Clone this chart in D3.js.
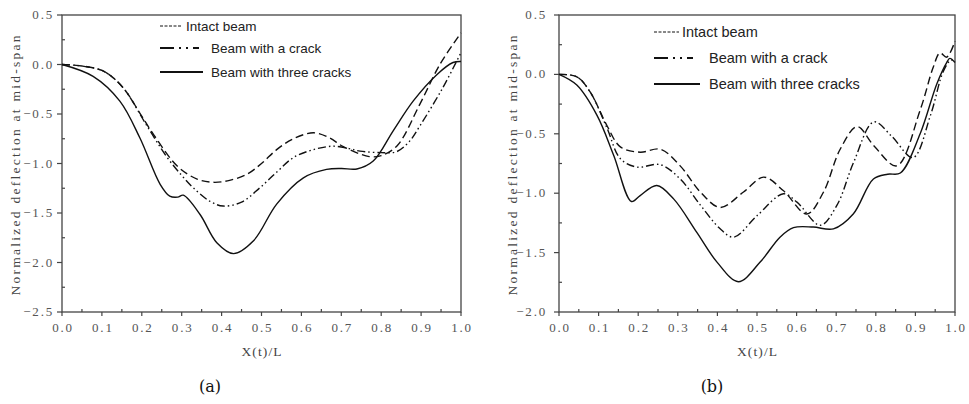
<!DOCTYPE html>
<html>
<head>
<meta charset="utf-8">
<script src="https://cdn.jsdelivr.net/npm/d3@7"></script>
<style>
  body { margin: 0; background: #fff; }
  svg { display: block; }
  .tick-label { font-family: "Liberation Serif", serif; font-size: 13px; letter-spacing: 1.8px; fill: #555; }
  .axis-title { font-family: "Liberation Serif", serif; font-size: 13.5px; fill: #444; }
  .legend-text { font-family: "Liberation Sans", Arial, sans-serif; fill: #222; }
  .caption { font-family: "DejaVu Serif", serif; font-size: 16px; fill: #111; }
</style>
</head>
<body>
<div id="chart"></div>
<script>
// series names
const seriesNames = ["Intact beam", "Beam with a crack", "Beam with three cracks"];

// panel (a)
const aIntactX = [0, 0.05, 0.10, 0.13, 0.16, 0.195, 0.23, 0.29, 0.34, 0.38, 0.42, 0.463, 0.50, 0.538, 0.58, 0.63, 0.67, 0.705, 0.77, 0.80, 0.84, 0.897, 0.947, 1.0];
const aIntactY = [0, -0.015, -0.06, -0.14, -0.27, -0.49, -0.71, -1.03, -1.16, -1.19, -1.17, -1.11, -1.0, -0.86, -0.75, -0.69, -0.74, -0.83, -0.93, -0.92, -0.82, -0.40, 0.0, 0.32];
const aCrackX = [0, 0.05, 0.10, 0.13, 0.16, 0.21, 0.262, 0.30, 0.329, 0.37, 0.404, 0.45, 0.496, 0.54, 0.58, 0.63, 0.68, 0.72, 0.747, 0.80, 0.839, 0.87, 0.897, 0.955, 1.0];
const aCrackY = [0, -0.015, -0.06, -0.14, -0.27, -0.60, -0.93, -1.12, -1.245, -1.38, -1.43, -1.39, -1.245, -1.08, -0.94, -0.86, -0.825, -0.85, -0.875, -0.89, -0.88, -0.78, -0.62, -0.23, 0.12];
const aThreeX = [0, 0.078, 0.145, 0.195, 0.246, 0.27, 0.29, 0.304, 0.346, 0.388, 0.43, 0.48, 0.538, 0.605, 0.663, 0.70, 0.739, 0.78, 0.83, 0.88, 0.94, 0.98, 1.0];
const aThreeY = [0, -0.12, -0.37, -0.74, -1.21, -1.33, -1.34, -1.32, -1.515, -1.80, -1.91, -1.78, -1.41, -1.145, -1.06, -1.05, -1.055, -0.975, -0.67, -0.37, -0.10, 0.02, 0.03];

// panel (b)
const bIntactX = [0, 0.045, 0.079, 0.121, 0.155, 0.205, 0.256, 0.306, 0.357, 0.407, 0.466, 0.517, 0.567, 0.626, 0.668, 0.71, 0.753, 0.795, 0.853, 0.912, 0.945, 0.962, 0.979, 1.0];
const bIntactY = [0, -0.02, -0.15, -0.43, -0.61, -0.655, -0.63, -0.77, -0.99, -1.12, -0.99, -0.865, -0.98, -1.175, -0.99, -0.63, -0.44, -0.60, -0.77, -0.30, 0.06, 0.18, 0.145, 0.28];
const bCrackX = [0, 0.045, 0.079, 0.121, 0.155, 0.197, 0.256, 0.306, 0.357, 0.407, 0.441, 0.50, 0.567, 0.601, 0.66, 0.702, 0.744, 0.795, 0.84, 0.894, 0.938, 0.971, 0.99, 1.0];
const bCrackY = [0, -0.02, -0.15, -0.45, -0.71, -0.78, -0.76, -0.88, -1.10, -1.30, -1.37, -1.19, -1.005, -1.075, -1.27, -1.10, -0.74, -0.40, -0.52, -0.70, -0.345, 0.03, 0.12, 0.11];
const bThreeX = [0, 0.045, 0.096, 0.138, 0.183, 0.205, 0.247, 0.29, 0.348, 0.399, 0.453, 0.508, 0.558, 0.592, 0.642, 0.693, 0.743, 0.794, 0.83, 0.862, 0.912, 0.954, 0.979, 0.987, 1.0];
const bThreeY = [0, -0.09, -0.345, -0.68, -1.07, -1.02, -0.935, -1.05, -1.33, -1.58, -1.745, -1.58, -1.37, -1.29, -1.285, -1.30, -1.175, -0.88, -0.84, -0.83, -0.50, -0.08, 0.10, 0.135, 0.10];

// tick labels
const xTicks = [0, 0.1, 0.2, 0.3, 0.4, 0.5, 0.6, 0.7, 0.8, 0.9, 1.0];
const aYTicks = [0.5, 0, -0.5, -1.0, -1.5, -2.0, -2.5];
const bYTicks = [0.5, 0, -0.5, -1.0, -1.5, -2.0];

const width = 969, height = 404;
const svg = d3.select("#chart").append("svg")
	.attr("width", width)
	.attr("height", height);

// line styles: plot dash, legend sample dash
const styles = [
	{ dash: "8,4", legendDash: "3,1.5" },
	{ dash: "8,3,1.5,3,1.5,3", legendDash: "14,5,2,5,2,5,6" },
	{ dash: null, legendDash: null }
];

const fmt = v => d3.format(".1f")(v).replace("-", "\u2212");

function drawPanel(p) {
	const x = d3.scaleLinear().domain([0, 1]).range([p.left, p.right]);
	const y = d3.scaleLinear().domain(p.yDomain).range([p.bottom, p.top]);
	const g = svg.append("g");

	// frame
	g.append("rect")
		.attr("x", p.left).attr("y", p.top)
		.attr("width", p.right - p.left).attr("height", p.bottom - p.top)
		.attr("fill", "none").attr("stroke", "#444").attr("stroke-width", 1.3);

	// x axis: major ticks out every 0.1, minor ticks in between
	const xMinor = d3.range(0, 1.0001, 0.05);
	g.selectAll(".xtick").data(xMinor).enter().append("line")
		.attr("x1", d => x(d)).attr("x2", d => x(d))
		.attr("y1", p.bottom).attr("y2", (d, i) => i % 2 ? p.bottom - 3 : p.bottom + 4)
		.attr("stroke", "#444").attr("stroke-width", 1.2);
	g.selectAll(".xlabel").data(xTicks).enter().append("text")
		.attr("class", "tick-label")
		.attr("x", d => x(d) + 1).attr("y", p.bottom + 20)
		.attr("text-anchor", "middle")
		.text(d => fmt(d));

	// y axis ticks
	const yMinor = d3.range(p.yDomain[0], p.yDomain[1] + 0.001, 0.25);
	g.selectAll(".ytick").data(yMinor).enter().append("line")
		.attr("x1", p.left).attr("x2", (d, i) => i % 2 ? p.left + 3 : p.left - 5)
		.attr("y1", d => y(d)).attr("y2", d => y(d))
		.attr("stroke", "#444").attr("stroke-width", 1.2);
	g.selectAll(".ylabel").data(p.yTicks).enter().append("text")
		.attr("class", "tick-label")
		.attr("x", p.left - p.labelGap).attr("y", d => y(d) + 4)
		.attr("text-anchor", "end")
		.text(d => fmt(d));

	// axis titles
	g.append("text").attr("class", "axis-title")
		.attr("x", (p.left + p.right) / 2).attr("y", p.bottom + 44)
		.attr("text-anchor", "middle")
		.attr("textLength", 40)
		.text("X(t)/L");
	g.append("text").attr("class", "axis-title")
		.attr("transform", "translate(" + p.yTitleX + "," + ((p.top + p.bottom) / 2 + 2) + ") rotate(-90)")
		.attr("text-anchor", "middle")
		.attr("textLength", 260)
		.text("Normalized deflection at mid-span");

	// curves
	const line = d3.line()
		.x(d => x(d[0]))
		.y(d => y(d[1]))
		.curve(d3.curveCatmullRom.alpha(0.5));
	p.series.forEach((s, i) => {
		g.append("path")
			.datum(d3.zip(s[0], s[1]))
			.attr("d", line)
			.attr("fill", "none")
			.attr("stroke", "#111")
			.attr("stroke-width", 1.4)
			.attr("stroke-dasharray", styles[i].dash);
	});

	// legend
	p.legend.forEach((row, i) => {
		g.append("line")
			.attr("x1", p.legendX).attr("x2", row.lineEnd)
			.attr("y1", row.y).attr("y2", row.y)
			.attr("stroke", "#111").attr("stroke-width", i === 0 ? 1 : 2)
			.attr("stroke-dasharray", styles[i].legendDash);
		g.append("text").attr("class", "legend-text")
			.attr("x", row.textX).attr("y", row.y + 5)
			.style("font-size", p.legendSize + "px")
			.text(seriesNames[i]);
	});

	// caption
	svg.append("text").attr("class", "caption")
		.attr("x", p.captionX).attr("y", 392)
		.attr("text-anchor", "middle").text(p.caption);
}

drawPanel({
	left: 62, right: 461, top: 15, bottom: 312,
	yDomain: [-2.5, 0.5], yTicks: aYTicks, labelGap: 8, yTitleX: 20,
	series: [[aIntactX, aIntactY], [aCrackX, aCrackY], [aThreeX, aThreeY]],
	legendX: 160, legendSize: 13.5,
	legend: [
		{ y: 26, lineEnd: 182, textX: 186 },
		{ y: 48, lineEnd: 203, textX: 211 },
		{ y: 72, lineEnd: 203, textX: 211 }
	],
	caption: "(a)", captionX: 210
});

drawPanel({
	left: 559, right: 955, top: 15, bottom: 312,
	yDomain: [-2.0, 0.5], yTicks: bYTicks, labelGap: 12, yTitleX: 517,
	series: [[bIntactX, bIntactY], [bCrackX, bCrackY], [bThreeX, bThreeY]],
	legendX: 654, legendSize: 14.5,
	legend: [
		{ y: 32, lineEnd: 679, textX: 682 },
		{ y: 58, lineEnd: 700, textX: 709 },
		{ y: 84, lineEnd: 700, textX: 709 }
	],
	caption: "(b)", captionX: 712
});
</script>
</body>
</html>
